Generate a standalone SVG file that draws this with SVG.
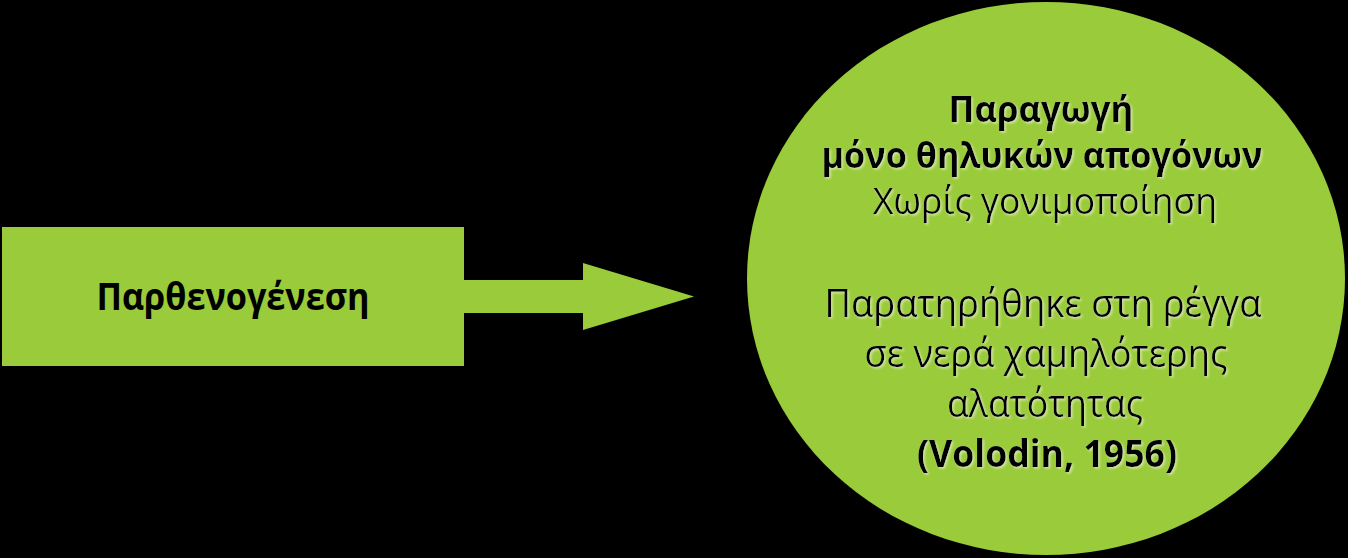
<svg xmlns="http://www.w3.org/2000/svg" width="1348" height="558" viewBox="0 0 1348 558">
<style>
.shape{fill:#9ACB3A}
.t{font-family:"Open Sans","Liberation Sans",sans-serif;font-size:38px;fill:#000;text-anchor:middle;font-weight:500}
.b{font-weight:bold}
.s{font-size:36px}
.sh{filter:url(#ts)}
</style>
<defs>
<filter id="ts" x="-5%" y="-20%" width="110%" height="140%">
<feDropShadow dx="1.5" dy="1.5" stdDeviation="0.8" flood-color="#ffffff" flood-opacity="0.55"/>
</filter>
</defs>
<rect width="1348" height="558" fill="#000"/>
<g id="connectors">
<polygon class="shape" points="464,280 583,280 583,263 694,296.5 583,330 583,313 464,313"/>
</g>
<g id="node-parthenogenesis">
<rect class="shape" x="2" y="227" width="462" height="139"/>
<text class="t b" x="233" y="310" textLength="273" lengthAdjust="spacingAndGlyphs">Παρθενογένεση</text>
</g>
<g id="node-description">
<ellipse class="shape" cx="1046" cy="278.5" rx="299" ry="276.5"/>
<text class="t b s sh" x="1041" y="122" textLength="185" lengthAdjust="spacingAndGlyphs">Παραγωγή</text>
<text class="t b s sh" x="1042" y="168" textLength="441" lengthAdjust="spacingAndGlyphs">μόνο θηλυκών απογόνων</text>
<text class="t s sh" x="1045" y="214" textLength="344" lengthAdjust="spacingAndGlyphs">Χωρίς γονιμοποίηση</text>
<text class="t sh" x="1043" y="317" textLength="437" lengthAdjust="spacingAndGlyphs">Παρατηρήθηκε στη ρέγγα</text>
<text class="t sh" x="1046" y="367" textLength="363" lengthAdjust="spacingAndGlyphs">σε νερά χαμηλότερης</text>
<text class="t sh" x="1045" y="417" textLength="196" lengthAdjust="spacingAndGlyphs">αλατότητας</text>
<text class="t b sh" x="1047" y="467" textLength="260" lengthAdjust="spacingAndGlyphs">(Volodin, 1956)</text>
</g>
</svg>
